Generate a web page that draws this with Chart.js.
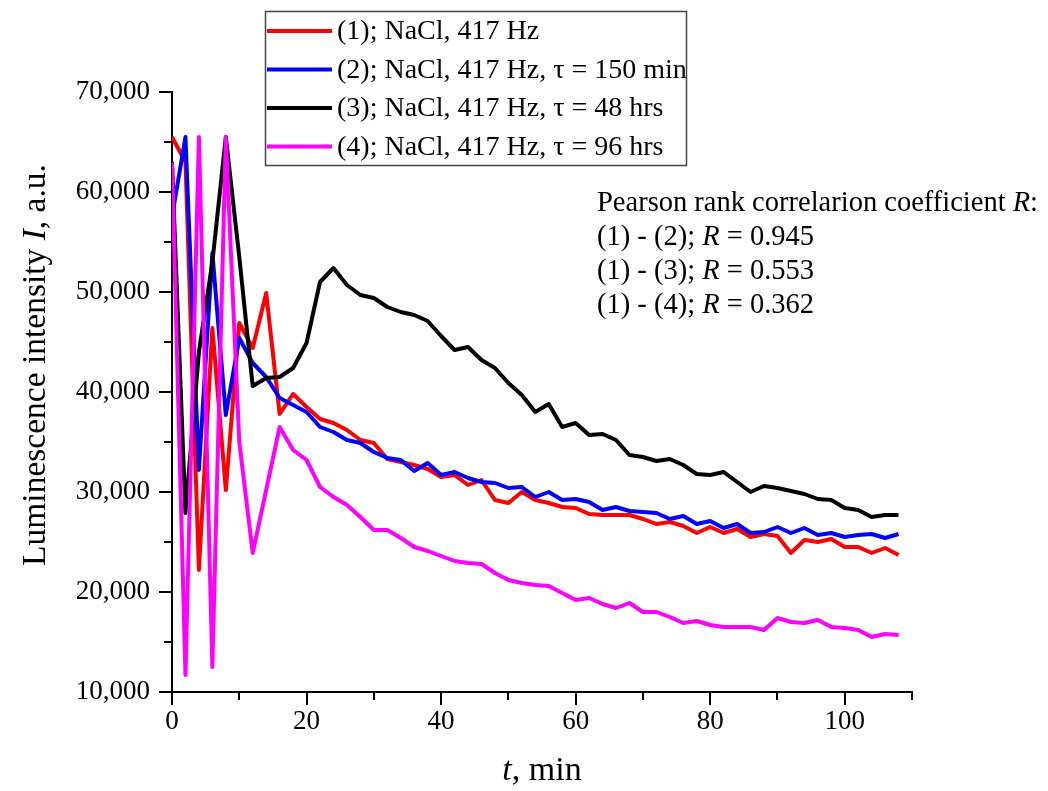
<!DOCTYPE html>
<html lang="en">
<head>
  <meta charset="UTF-8" />
  <title>Luminescence intensity, NaCl 417 Hz</title>
  <script src="https://cdn.jsdelivr.net/npm/chart.js"></script>
  <style>
    body { margin: 0; background: #fff; }
    #wrap { width: 1048px; height: 791px; }
  </style>
</head>
<body>
  <div id="wrap"><canvas id="lumChart" width="1048" height="791"></canvas></div>

  <script>
    // t, min
    const times = [0, 2, 4, 6, 8, 10, 12, 14, 16, 18, 20, 22, 24, 26, 28, 30, 32, 34, 36, 38,
      40, 42, 44, 46, 48, 50, 52, 54, 56, 58, 60, 62, 64, 66, 68, 70, 72, 74, 76, 78,
      80, 82, 84, 86, 88, 90, 92, 94, 96, 98, 100, 102, 104, 106, 108];

    // (1) NaCl, 417 Hz
    const series1 = [65500, 63000, 22200, 46400, 30200, 46900, 44400, 49900, 37800, 39800,
      38500, 37300, 36900, 36200, 35200, 34900, 33300, 33000, 32700, 32300,
      31500, 31700, 30700, 31200, 29200, 28900, 30000, 29200, 28900, 28500,
      28400, 27800, 27700, 27700, 27700, 27300, 26800, 27000, 26600, 25900,
      26500, 25900, 26300, 25500, 25800, 25600, 23900, 25200, 25000, 25300,
      24500, 24500, 23900, 24400, 23700];

    // (2) tau = 150 min
    const series2 = [57500, 65500, 32200, 53900, 37700, 45400, 42900, 41500, 39400, 38700,
      38000, 36500, 36000, 35200, 34900, 34000, 33400, 33200, 32100, 32900,
      31700, 32000, 31400, 31000, 30900, 30400, 30500, 29500, 30000, 29200,
      29300, 29000, 28200, 28500, 28100, 28000, 27900, 27300, 27600, 26800,
      27100, 26400, 26800, 25900, 26000, 26500, 25900, 26400, 25700, 25900,
      25500, 25700, 25800, 25400, 25800];

    // (3) tau = 48 hrs
    const series3 = [63000, 27900, 44000, 53000, 65500, 53500, 40600, 41400, 41500, 42400,
      44900, 51000, 52400, 50700, 49700, 49400, 48500, 48000, 47700, 47100,
      45600, 44200, 44500, 43200, 42400, 40900, 39700, 38000, 38800, 36500,
      36900, 35700, 35800, 35200, 33700, 33500, 33100, 33300, 32700, 31800,
      31700, 32000, 31000, 30000, 30600, 30400, 30100, 29800, 29300, 29200,
      28400, 28200, 27500, 27700, 27700];

    // (4) tau = 96 hrs
    const series4 = [62900, 11700, 65500, 12500, 65500, 35000, 23900, 30200, 36500, 34200,
      33200, 30500, 29500, 28700, 27500, 26200, 26200, 25400, 24500, 24100,
      23600, 23100, 22900, 22800, 21900, 21200, 20900, 20700, 20600, 19900,
      19200, 19400, 18800, 18400, 18900, 18000, 18000, 17500, 16900, 17100,
      16700, 16500, 16500, 16500, 16200, 17400, 17000, 16900, 17200, 16500,
      16400, 16200, 15500, 15800, 15700];

    const seriesLabels = [
      '(1); NaCl, 417 Hz',
      '(2); NaCl, 417 Hz, \u03c4 = 150 min',
      '(3); NaCl, 417 Hz, \u03c4 = 48 hrs',
      '(4); NaCl, 417 Hz, \u03c4 = 96 hrs'
    ];
    const seriesColors = ['#ff0000', '#0000ff', '#000000', '#ff00ff'];

    const xTickValues = [0, 10, 20, 30, 40, 50, 60, 70, 80, 90, 100, 110];
    const yTickValues = [10000, 15000, 20000, 25000, 30000, 35000, 40000, 45000, 50000, 55000, 60000, 65000, 70000];

    const corrPairs = ['(1) - (2)', '(1) - (3)', '(1) - (4)'];
    const corrValues = ['0.945', '0.553', '0.362'];

    const SERIF = "'Liberation Serif', 'Times New Roman', serif";

    function toXY(ys) {
      return ys.map((v, i) => ({ x: times[i], y: v }));
    }

    // draws a run of [text, italic] pieces starting at x
    function drawRuns(ctx, runs, x, y, size) {
      runs.forEach(([txt, it]) => {
        ctx.font = (it ? 'italic ' : '') + size + 'px ' + SERIF;
        ctx.fillText(txt, x, y);
        x += ctx.measureText(txt).width;
      });
    }
    function runsWidth(ctx, runs, size) {
      return runs.reduce((w, [txt, it]) => {
        ctx.font = (it ? 'italic ' : '') + size + 'px ' + SERIF;
        return w + ctx.measureText(txt).width;
      }, 0);
    }

    const decor = {
      id: 'decor',
      afterDraw(chart) {
        const { ctx, chartArea: a, scales: { x, y } } = chart;
        ctx.save();
        ctx.strokeStyle = '#000';
        ctx.fillStyle = '#000';
        ctx.lineWidth = 2;

        // tick marks (major longer than minor)
        ctx.beginPath();
        xTickValues.forEach(v => {
          const px = Math.round(x.getPixelForValue(v));
          const len = v % 20 === 0 ? 13 : 8;
          ctx.moveTo(px, a.bottom);
          ctx.lineTo(px, a.bottom + len);
        });
        yTickValues.forEach(v => {
          const py = Math.round(y.getPixelForValue(v));
          const len = v % 10000 === 0 ? 13 : 8;
          ctx.moveTo(a.left, py);
          ctx.lineTo(a.left - len, py);
        });
        ctx.stroke();

        // axis titles
        ctx.textBaseline = 'middle';
        ctx.textAlign = 'left';
        const xt = [['t', true], [', min', false]];
        drawRuns(ctx, xt, (a.left + a.right) / 2 - runsWidth(ctx, xt, 34) / 2, 771, 34);

        const yt = [['Luminescence intensity ', false], ['I', true], [', a.u.', false]];
        ctx.save();
        ctx.translate(36, 365);
        ctx.rotate(-Math.PI / 2);
        drawRuns(ctx, yt, -runsWidth(ctx, yt, 33.5) / 2, 0, 33.5);
        ctx.restore();

        // legend box
        ctx.lineWidth = 1.5;
        ctx.strokeStyle = '#444';
        ctx.strokeRect(265.5, 11.5, 421, 154);
        chart.data.datasets.forEach((ds, i) => {
          const ry = 31 + i * 38.5;
          ctx.strokeStyle = ds.borderColor;
          ctx.lineWidth = 4;
          ctx.beginPath();
          ctx.moveTo(267, ry);
          ctx.lineTo(332, ry);
          ctx.stroke();
          ctx.font = '28px ' + SERIF;
          ctx.fillText(ds.label, 337, ry + 1);
        });

        // correlation note
        const nx = 597;
        drawRuns(ctx, [['Pearson rank correlarion coefficient ', false], ['R', true], [':', false]], nx, 204, 28.5);
        corrPairs.forEach((p, i) => {
          drawRuns(ctx, [[p + '; ', false], ['R', true], [' = ' + corrValues[i], false]], nx, 238 + i * 34, 28.5);
        });

        ctx.restore();
      }
    };

    new Chart(document.getElementById('lumChart'), {
      type: 'line',
      data: {
        datasets: [series1, series2, series3, series4].map((s, i) => ({
          label: seriesLabels[i],
          data: toXY(s),
          borderColor: seriesColors[i],
          backgroundColor: seriesColors[i],
          borderWidth: 4,
          borderJoinStyle: 'round',
          pointRadius: 0,
          tension: 0,
          order: 4 - i
        }))
      },
      options: {
        responsive: false,
        animation: false,
        layout: { padding: { left: 0, top: 92, right: 136, bottom: 0 } },
        plugins: {
          legend: { display: false },
          tooltip: { enabled: false }
        },
        scales: {
          x: {
            type: 'linear',
            min: 0,
            max: 110,
            grid: { display: false, drawTicks: false },
            border: { display: true, color: '#000', width: 2 },
            ticks: {
              stepSize: 10,
              padding: 14,
              autoSkip: false,
              color: '#000',
              font: { family: SERIF, size: 27 },
              maxRotation: 0,
              callback: v => (v % 20 === 0 ? String(v) : '')
            },
            afterFit: s => { s.height = 99; }
          },
          y: {
            min: 10000,
            max: 70000,
            grid: { display: false, drawTicks: false },
            border: { display: true, color: '#000', width: 2 },
            ticks: {
              stepSize: 10000,
              padding: 22,
              color: '#000',
              font: { family: SERIF, size: 27 },
              callback: v => (v % 10000 === 0 ? v.toLocaleString('en-US') : '')
            },
            afterFit: s => { s.width = 172; }
          }
        }
      },
      plugins: [decor]
    });
  </script>
</body>
</html>
